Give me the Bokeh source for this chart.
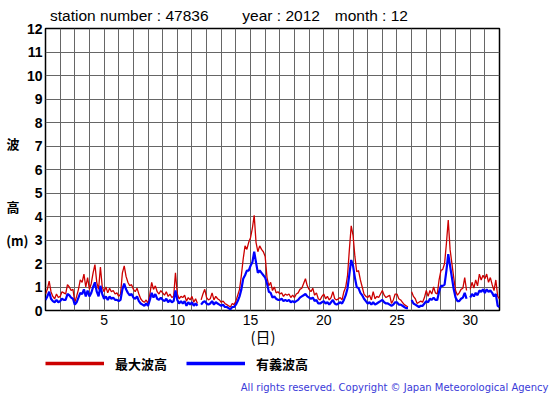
from bokeh.plotting import figure
from bokeh.layouts import column
from bokeh.models import FixedTicker, Legend, LegendItem, LinearAxis, Label
from bokeh.embed import file_html
from bokeh.resources import INLINE

nan = float("nan")

# Maximum wave height (m), 3-hourly, Dec 1 00h .. Jan 1 00h
max_wave = [
    0.7, 0.9, 1.25, 0.8, 0.6, 0.5, 0.7, 0.55,
    0.6, 0.8, 0.75, 0.7, 1.1, 1.0, 0.85, 0.9,
    0.35, 0.6, 0.9, 1.3, 1.2, 1.55, 1.0, 1.4,
    0.9, 1.15, 1.6, 1.95, 1.2, 0.9, 1.85, 1.0,
    0.8, 1.0, 0.75, 0.95, 0.8, 0.85, 0.7, 0.75,
    0.6, 0.7, 1.6, 1.9, 1.45, 1.2, 1.05, 1.1,
    0.9, 0.8, 0.95, 0.7, 0.5, 0.4, 0.35, 0.45,
    0.3, 0.7, 1.2, 0.9, 1.05, 0.8, 0.7, 0.85,
    0.75, 0.65, 0.8, 0.6, 0.7, 0.55, 0.6, 1.6,
    0.7, 0.5, 0.6, 0.55, 0.65, 0.4, 0.55, 0.45,
    0.6, 0.35, 0.5, 0.3, nan, 0.45, 0.7, 0.9,
    0.55, 0.45, 0.5, 0.75, 0.45, 0.6, 0.5, 0.45,
    0.35, 0.4, 0.3, 0.25, 0.2, 0.15, 0.3, 0.25,
    0.4, 0.65, 0.9, 1.5, 2.2, 2.75, 2.6, 2.9,
    3.1, 3.5, 4.05, 2.9, 2.5, 2.75, 2.6, 2.5,
    2.3, 1.4, 1.05, 1.2, 0.85, 1.0, 0.75, 0.8,
    0.7, 0.75, 0.6, 0.7, 0.65, 0.7, 0.55, 0.65,
    0.55, 0.7, 0.75, 0.9, 0.95, 1.15, 1.35, 1.05,
    0.9, 0.8, 0.95, 0.65, 0.75, 0.5, 0.45, 0.6,
    0.7, 0.5, 0.6, 0.45, 0.55, 0.8, 0.5, 0.45,
    0.5, 0.55, 0.45, 0.8, 1.0, 1.5, 2.6, 3.6,
    3.2, 2.3, 1.65, 1.7, 1.3, 1.0, 0.7, 0.6,
    0.55, 0.65, 0.45, 0.8, 0.5, 0.6, 0.55, 0.7,
    0.85, 0.65, 0.55, 0.6, 0.65, 0.3, 0.45, 0.7,
    0.7, 0.5, 0.45, 0.35, 0.25, 0.2, 0.15, nan,
    0.8, 0.6, 0.5, 0.3, 0.35, 0.4, 0.35, 0.55,
    0.85, 0.6, 0.85, 0.7, 1.0, 0.75, 0.7, 1.3,
    1.7, 1.75, 2.0, 2.85, 3.85, 2.6, 2.0, 1.4,
    0.85, 0.65, 0.75, 0.9, 0.95, 1.4, 0.85, nan,
    0.9, 1.2, 0.95, 1.3, 1.05, 1.55, 1.3, 1.5,
    1.35, 1.55, 1.2, 1.4, 1.1, 0.85, 1.3, 0.6,
    0.5,
]

# Significant wave height (m), 3-hourly
sig_wave = [
    0.45, 0.6, 0.8, 0.5, 0.4, 0.35, 0.45, 0.35,
    0.4, 0.5, 0.45, 0.45, 0.7, 0.65, 0.55, 0.5,
    0.25, 0.35, 0.55, 0.75, 0.7, 0.9, 0.6, 0.85,
    0.6, 0.75, 1.0, 1.2, 0.8, 0.6, 1.05, 0.7,
    0.5, 0.6, 0.45, 0.6, 0.5, 0.55, 0.45, 0.45,
    0.4, 0.45, 0.9, 1.15, 0.9, 0.75, 0.65, 0.7,
    0.55, 0.5, 0.6, 0.4, 0.3, 0.25, 0.2, 0.3,
    0.2, 0.45, 0.75, 0.55, 0.7, 0.5, 0.45, 0.55,
    0.45, 0.4, 0.5, 0.35, 0.45, 0.35, 0.4, 0.85,
    0.45, 0.3, 0.4, 0.3, 0.4, 0.2, 0.35, 0.25,
    0.35, 0.2, 0.3, 0.2, nan, 0.25, 0.35, 0.4,
    0.3, 0.25, 0.3, 0.4, 0.25, 0.35, 0.3, 0.25,
    0.2, 0.25, 0.15, 0.15, 0.1, 0.05, 0.15, 0.15,
    0.25, 0.4, 0.6, 0.9, 1.35, 1.5, 1.7, 1.7,
    1.9, 2.05, 2.5, 2.05, 1.6, 1.7, 1.6, 1.5,
    1.4, 1.15, 0.8, 0.75, 0.55, 0.6, 0.5, 0.45,
    0.45, 0.5, 0.4, 0.45, 0.4, 0.45, 0.35, 0.4,
    0.35, 0.4, 0.45, 0.55, 0.6, 0.65, 0.7, 0.6,
    0.55, 0.5, 0.55, 0.4, 0.45, 0.3, 0.3, 0.35,
    0.4, 0.3, 0.35, 0.25, 0.35, 0.45, 0.3, 0.25,
    0.3, 0.35, 0.3, 0.45, 0.65, 0.95, 1.55, 2.15,
    1.9, 1.4, 1.0, 0.95, 0.75, 0.65, 0.5, 0.4,
    0.3, 0.35, 0.25, 0.35, 0.25, 0.3, 0.35, 0.4,
    0.45, 0.35, 0.3, 0.3, 0.25, 0.2, 0.25, 0.35,
    0.35, 0.25, 0.25, 0.2, 0.15, 0.1, 0.1, nan,
    0.45, 0.3, 0.25, 0.2, 0.15, 0.2, 0.2, 0.3,
    0.4, 0.35, 0.5, 0.45, 0.55, 0.45, 0.45, 0.8,
    1.05, 1.05, 1.1, 1.7, 2.4, 1.9, 1.4, 0.9,
    0.55, 0.4, 0.4, 0.5, 0.55, 0.75, 0.5, nan,
    0.55, 0.7, 0.6, 0.75, 0.65, 0.85, 0.8, 0.9,
    0.75, 0.9, 0.8, 0.85, 0.75, 0.6, 0.7, 0.2,
    0.15,
]

days = [1 + i / 8 for i in range(len(max_wave))]
x_tick_labels = [5, 10, 15, 20, 25, 30]
y_tick_labels = list(range(0, 13))
title_parts = ["station number : 47836", "year : 2012", "month : 12"]
title_pos = [6.72, 17.09, 23.25]          # label centres, in days
ylabel_chars = ["波", "高"]
ylabel_char_pos = [7.1, 4.43]             # label centres, in metres
ylabel_unit = "(m)"
ylabel_unit_pos = [2.98]
xlabel_text = "(日)"
xlabel_pos = [15.85]
legend_names = ["最大波高", "有義波高"]
copyright_text = "All rights reserved. Copyright \u00a9 Japan Meteorological Agency"

RED = "#cc0000"
BLUE = "#0000ff"
SANS = "Liberation Sans"
CJK = "Noto Sans CJK JP"


def plain_axis(ax):
    ax.axis_line_color = None
    ax.major_tick_line_color = None
    ax.minor_tick_line_color = None
    ax.major_tick_in = 0
    ax.major_tick_out = 0
    ax.minor_tick_in = 0
    ax.minor_tick_out = 0
    ax.major_label_text_color = "black"


p = figure(width=555, height=352, x_range=(1, 32), y_range=(0, 12),
           output_backend="svg", toolbar_location=None,
           min_border_left=45, min_border_right=56,
           min_border_top=28, min_border_bottom=42)
p.background_fill_color = "white"
p.border_fill_color = "white"
p.outline_line_color = "black"
p.outline_line_width = 1.5

p.xaxis.ticker = FixedTicker(ticks=x_tick_labels)
p.yaxis.ticker = FixedTicker(ticks=y_tick_labels)
p.xgrid.ticker = FixedTicker(ticks=list(range(1, 33)))
p.ygrid.ticker = FixedTicker(ticks=y_tick_labels)
for g in (p.xgrid, p.ygrid):
    g.grid_line_color = "#666666"
    g.grid_line_width = 1
    g.grid_line_alpha = 1.0

for ax in (p.xaxis, p.yaxis):
    plain_axis(ax)
    ax.major_label_text_font = SANS

p.yaxis.major_label_text_font_size = "14px"
p.yaxis.major_label_text_font_style = "bold"
p.yaxis.major_label_standoff = 3
p.xaxis.major_label_text_font_size = "14px"
p.xaxis.major_label_standoff = 4

# title texts (top)
top_ax = LinearAxis(ticker=FixedTicker(ticks=title_pos),
                    major_label_overrides=dict(zip(title_pos, title_parts)))
plain_axis(top_ax)
top_ax.major_label_text_font = SANS
top_ax.major_label_text_font_size = "15.5px"
top_ax.major_label_standoff = 5
p.add_layout(top_ax, "above")

# y axis caption: unit "(m)"
unit_ax = LinearAxis(ticker=FixedTicker(ticks=ylabel_unit_pos),
                     major_label_overrides={ylabel_unit_pos[0]: ylabel_unit})
plain_axis(unit_ax)
unit_ax.major_label_text_font = CJK
unit_ax.major_label_text_font_size = "13px"
unit_ax.major_label_text_font_style = "bold"
unit_ax.major_label_standoff = -5
p.add_layout(unit_ax, "left")

# y axis caption: characters 波 / 高
char_ax = LinearAxis(ticker=FixedTicker(ticks=ylabel_char_pos),
                     major_label_overrides=dict(zip(ylabel_char_pos, ylabel_chars)))
plain_axis(char_ax)
char_ax.major_label_text_font = CJK
char_ax.major_label_text_font_size = "13px"
char_ax.major_label_text_font_style = "bold"
char_ax.major_label_standoff = -16
p.add_layout(char_ax, "left")

# x axis caption
xlab_ax = LinearAxis(ticker=FixedTicker(ticks=xlabel_pos),
                     major_label_overrides={xlabel_pos[0]: xlabel_text})
plain_axis(xlab_ax)
xlab_ax.major_label_text_font = CJK
xlab_ax.major_label_text_font_size = "15px"
xlab_ax.major_label_standoff = -2
p.add_layout(xlab_ax, "below")

p.line(days, max_wave, line_color=RED, line_width=1.3)
p.line(days, sig_wave, line_color=BLUE, line_width=2.2)

# ---- legend strip underneath ----
q = figure(width=555, height=43, x_range=(0, 1), y_range=(0, 1),
           output_backend="svg", toolbar_location=None,
           x_axis_type=None, y_axis_type=None,
           min_border=0, min_border_left=0, min_border_right=0,
           min_border_top=0, min_border_bottom=0)
try:
    q.frame_align = False
except Exception:
    pass
q.outline_line_color = None
q.background_fill_color = "white"
q.border_fill_color = "white"
q.xgrid.visible = False
q.ygrid.visible = False

k_max = q.line([nan], [nan], line_color=RED, line_width=3.5)
k_sig = q.line([nan], [nan], line_color=BLUE, line_width=3.5)
legend = Legend(items=[LegendItem(label=legend_names[0], renderers=[k_max]),
                       LegendItem(label=legend_names[1], renderers=[k_sig])],
                orientation="horizontal", location=(45, 22),
                glyph_width=59, glyph_height=20, label_height=20,
                label_standoff=11, spacing=19, padding=0, margin=0,
                border_line_color=None, background_fill_alpha=0,
                label_text_font=CJK, label_text_font_style="bold",
                label_text_font_size="13px", label_text_color="black")
q.add_layout(legend)

q.add_layout(Label(x=548, y=8, x_units="screen", y_units="screen", text=copyright_text,
                   text_font="DejaVu Sans", text_font_size="10px",
                   text_color="#3a3ad8", text_align="right", text_baseline="middle"))

layout = column(p, q, spacing=0)
open("out.html", "w").write(file_html(layout, INLINE))
